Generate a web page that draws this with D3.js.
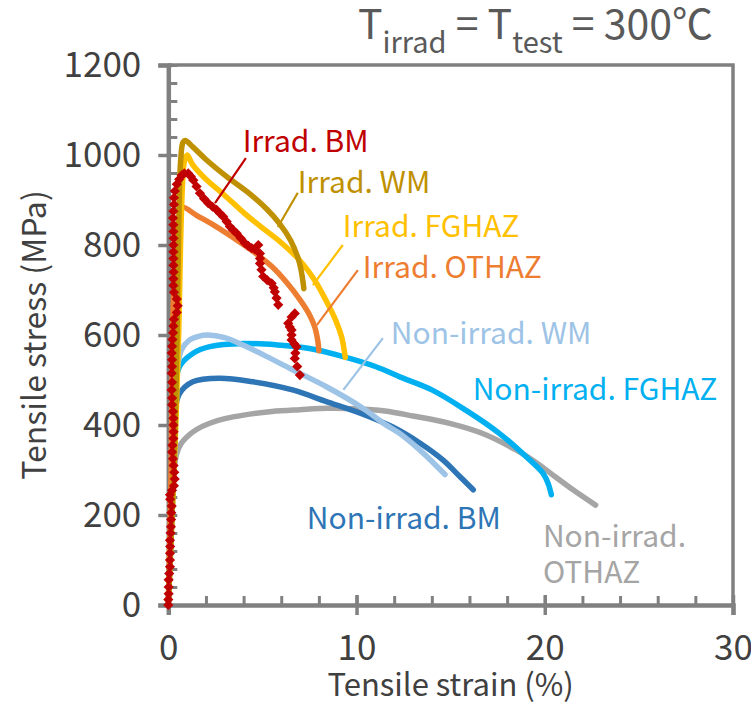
<!DOCTYPE html>
<html>
<head>
<meta charset="utf-8">
<script src="https://cdn.jsdelivr.net/npm/d3@7/dist/d3.min.js"></script>
<style>
  body { margin: 0; background: #fff; }
  text { font-family: "Noto Sans CJK JP", "Noto Sans", sans-serif; }
</style>
</head>
<body>
<div id="VisContainer"></div>
<script>
// strain (%) , stress (MPa)
irradWM = [[0,0],[0.2,200],[0.4,450],[0.5,700],[0.58,900],[0.66,990],[0.78,1028],[0.9,1032],[1.3,1018],[2.0,990],[3.1,952],[4.2,918],[5.2,881],[5.9,848],[6.5,810],[6.9,770],[7.05,745],[7.15,720],[7.2,703]];
irradFGHAZ = [[0,0],[0.2,200],[0.4,400],[0.55,600],[0.65,800],[0.75,930],[0.85,985],[1.0,1000],[1.3,978],[2.0,946],[3.0,910],[4.0,872],[5.0,838],[6.0,805],[7.0,765],[7.8,720],[8.4,675],[8.9,632],[9.2,597],[9.35,565],[9.4,550]];
irradOTHAZ = [[0,0],[0.15,300],[0.25,650],[0.4,800],[0.6,870],[0.75,884],[1.5,866],[2.5,842],[3.5,815],[4.5,786],[5.5,752],[6.3,716],[7.0,678],[7.5,645],[7.8,615],[7.95,585],[8.0,565]];
nonWM = [[0,0],[0.25,300],[0.35,450],[0.5,530],[0.7,567],[1.1,588],[1.6,597],[2.1,600],[3.0,594],[4.0,577],[5.0,557],[6.5,525],[8.4,485],[10.2,441],[11.5,402],[12.3,381],[13.4,343],[14.1,315],[14.7,290]];
nonFGHAZ = [[0,0],[0.25,300],[0.4,490],[0.6,530],[1.3,559],[2.2,574],[4.0,581],[5.8,578],[7.5,570],[9.3,552],[11.0,530],[12.3,507],[14.0,478],[15.8,433],[17.6,381],[19.0,330],[19.9,293],[20.2,268],[20.35,245]];
nonBM = [[0,0],[0.2,250],[0.36,433],[0.6,470],[1.3,496],[2.7,504],[4.5,496],[6.6,478],[8.4,452],[10.2,426],[11.9,396],[13.4,359],[14.6,322],[15.5,285],[16.2,256]];
nonOTHAZ = [[0,0],[0.2,200],[0.3,300],[0.45,337],[0.7,360],[1.0,374],[1.5,390],[2.2,404],[3.0,414],[4.0,422],[5.5,430],[7.0,434],[8.5,437],[10.0,436],[11.5,431],[13.0,420],[15.0,403],[16.7,381],[18.5,344],[19.5,318],[20.3,293],[21.5,256],[22.7,222]];
irradBM = [[0,0],[0,12],[0.02,25],[0.02,40],[0.02,56],[0.05,70],[0.09,85],[0.09,100],[0.09,115],[0.1,130],[0.09,144],[0.12,160],[0.14,174],[0.15,190],[0.16,205],[0.18,220],[0.1,235],[0.09,245],[0.2,255],[0.3,265],[0.34,280],[0.32,295],[0.28,310],[0.25,325],[0.2,340],[0.22,355],[0.27,370],[0.28,385],[0.27,400],[0.27,415],[0.25,430],[0.2,445],[0.2,460],[0.18,478],[0.2,495],[0.18,515],[0.2,530],[0.2,545],[0.18,560],[0.2,575],[0.22,590],[0.25,605],[0.27,620],[0.3,635],[0.45,650],[0.5,665],[0.45,680],[0.3,695],[0.27,710],[0.27,725],[0.28,740],[0.27,755],[0.27,770],[0.27,785],[0.27,800],[0.28,815],[0.27,830],[0.27,845],[0.25,860],[0.27,875],[0.3,890],[0.3,905],[0.35,920],[0.45,935],[0.58,946],[0.71,955],[0.85,959],[1.06,959],[1.2,952],[1.33,944],
  [1.5,930],[1.68,915],[1.9,903],[2.12,893],[2.35,885],[2.57,878],[2.75,870],[2.92,863],[3.1,852],[3.27,841],[3.45,833],[3.63,826],[3.85,815],[4.07,804],[4.25,798],[4.43,793],[4.6,790],[4.78,800],[4.87,781],[4.87,770],[4.87,759],[4.95,745],[5.04,730],[5.25,722],[5.49,715],[5.6,705],[5.66,696],[5.75,682],[5.84,667],[6.72,648],[6.55,640],[6.37,626],[6.45,618],[6.55,611],[6.55,600],[6.55,589],[6.7,580],[6.81,574],[6.75,560],[6.72,548],[6.85,530],[6.99,511]];

xMajor = [0,10,20,30];
yMajor = [0,200,400,600,800,1000,1200];

series = [
  {name:"nonOTHAZ", data:nonOTHAZ, color:"#A5A5A5"},
  {name:"nonFGHAZ", data:nonFGHAZ, color:"#00B0F0"},
  {name:"nonBM", data:nonBM, color:"#2E75B6"},
  {name:"nonWM", data:nonWM, color:"#9DC3E6"},
  {name:"irradOTHAZ", data:irradOTHAZ, color:"#ED7D31"},
  {name:"irradFGHAZ", data:irradFGHAZ, color:"#FFC000"},
  {name:"irradWM", data:irradWM, color:"#BF9000"}
];

// label: text, strain, stress (left edge, vertical centre)
labels = [
  {t:"Irrad. BM", x:3.95, y:1030, c:"#C00000"},
  {t:"Irrad. WM", x:6.88, y:940, c:"#BF9000"},
  {t:"Irrad. FGHAZ", x:9.27, y:842, c:"#FFC000"},
  {t:"Irrad. OTHAZ", x:10.33, y:749, c:"#ED7D31"},
  {t:"Non-irrad. WM", x:11.82, y:604, c:"#9DC3E6"},
  {t:"Non-irrad. FGHAZ", x:16.17, y:478, c:"#00B0F0"},
  {t:"Non-irrad. BM", x:7.36, y:193, c:"#2E75B6"},
  {t:"Non-irrad.", x:19.9, y:153, c:"#A5A5A5"},
  {t:"OTHAZ", x:19.9, y:73, c:"#A5A5A5"}
];
leaders = [
  {p:[[4.12,993],[2.48,893]], c:"#C00000"},
  {p:[[6.88,916],[5.82,840]], c:"#BF9000"},
  {p:[[9.27,800],[7.68,711]], c:"#FFC000"},
  {p:[[10.07,744],[7.89,622]], c:"#ED7D31"},
  {p:[[11.4,593],[9.3,478]], c:"#9DC3E6"}
];

W = 751; H = 721;
axisColor = "#808080";
textColor = "#404040";

svg = d3.select("#VisContainer").append("svg")
  .attr("width", W).attr("height", H);

x = d3.scaleLinear().domain([0,30]).range([168.3,733]);
y = d3.scaleLinear().domain([0,1200]).range([605,65]);

// frame (top and right)
svg.append("path")
  .attr("d", "M" + x(0) + "," + y(1200) + "H" + x(30) + "V" + y(0))
  .attr("fill","none").attr("stroke",axisColor).attr("stroke-width",3.5);

// minor ticks
gxm = svg.append("g").attr("transform","translate(0,"+y(0)+")")
  .call(d3.axisBottom(x).tickValues(d3.range(0,31,2)).tickSize(-9).tickFormat(""));
gym = svg.append("g").attr("transform","translate("+x(0)+",0)")
  .call(d3.axisLeft(y).tickValues(d3.range(0,1201,40)).tickSize(-9).tickFormat(""));
[gxm,gym].forEach(function(g){
  g.select(".domain").remove();
  g.selectAll(".tick line").attr("stroke",axisColor).attr("stroke-width",3);
});

// major axes
gx = svg.append("g").attr("transform","translate(0,"+y(0)+")")
  .call(d3.axisBottom(x).tickValues(xMajor).tickSize(10).tickPadding(20).tickFormat(d3.format("d")));
gx.selectAll(".tick line").attr("y1",-10);
gy = svg.append("g").attr("transform","translate("+x(0)+",0)")
  .call(d3.axisLeft(y).tickValues(yMajor).tickSize(10).tickPadding(17).tickFormat(d3.format("d")));
gy.selectAll(".tick line").attr("x1",4);
[gx,gy].forEach(function(g){
  g.select(".domain").attr("stroke",axisColor).attr("stroke-width",4.5);
  g.selectAll(".tick line").attr("stroke",axisColor).attr("stroke-width",3.5);
  g.selectAll(".tick text").attr("fill",textColor).style("font-size","35px")
    .style("font-family",'"Noto Sans CJK JP", sans-serif');
});
gx.selectAll(".tick text").attr("dy","0.7em");
gy.selectAll(".tick text").attr("dy","0.34em");

// axis titles
svg.append("text").attr("x",(x(0)+x(30))/2).attr("y",696)
  .attr("text-anchor","middle").attr("fill",textColor).style("font-size","31px")
  .text("Tensile strain (%)");
svg.append("text").attr("transform","translate(46,"+((y(0)+y(1200))/2)+") rotate(-90)")
  .attr("text-anchor","middle").attr("fill",textColor).style("font-size","32px")
  .text("Tensile stress (MPa)");

// title
title = svg.append("text").attr("x",713).attr("y",39).attr("text-anchor","end")
  .attr("fill","#595959").style("font-size","41px");
title.append("tspan").text("T");
title.append("tspan").attr("dy",14).style("font-size","29px").text("irrad");
title.append("tspan").attr("dy",-14).text(" = T");
title.append("tspan").attr("dy",14).style("font-size","29px").text("test");
title.append("tspan").attr("dy",-14).text(" = 300℃");

// curves
line = d3.line().x(function(d){return x(d[0]);}).y(function(d){return y(d[1]);})
  .curve(d3.curveCatmullRom.alpha(0.5));
svg.selectAll("path.curve").data(series).enter().append("path")
  .attr("class","curve")
  .attr("d", function(d){return line(d.data);})
  .attr("fill","none")
  .attr("stroke", function(d){return d.color;})
  .attr("stroke-width",5.5)
  .attr("stroke-linecap","round").attr("stroke-linejoin","round");

// irradiated BM markers
diamond = d3.symbol().type(d3.symbolSquare).size(52);
svg.selectAll("path.dot").data(irradBM).enter().append("path")
  .attr("class","dot")
  .attr("d", diamond)
  .attr("transform", function(d){return "translate("+x(d[0])+","+y(d[1])+") rotate(45)";})
  .attr("fill","#C00000");

// leader lines
svg.selectAll("path.leader").data(leaders).enter().append("path")
  .attr("class","leader")
  .attr("d", function(d){return d3.line().x(function(p){return x(p[0]);}).y(function(p){return y(p[1]);})(d.p);})
  .attr("stroke", function(d){return d.c;}).attr("stroke-width",2.2).attr("fill","none");

// labels
svg.selectAll("text.lab").data(labels).enter().append("text")
  .attr("class","lab")
  .attr("x", function(d){return x(d.x);})
  .attr("y", function(d){return y(d.y);})
  .attr("dy","0.35em")
  .attr("fill", function(d){return d.c;})
  .style("font-size","30px")
  .text(function(d){return d.t;});
</script>
</body>
</html>
